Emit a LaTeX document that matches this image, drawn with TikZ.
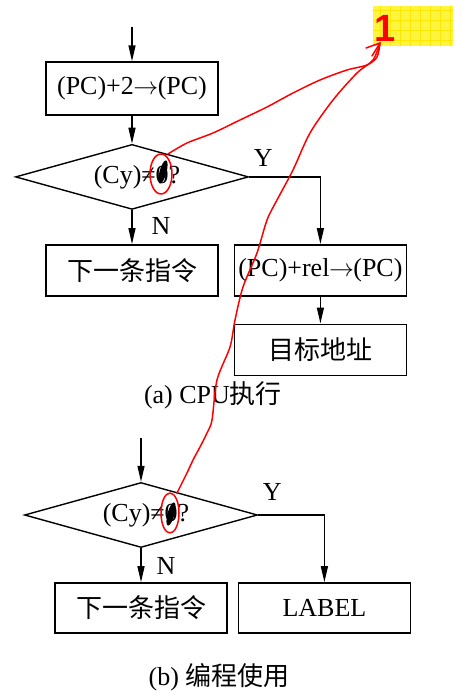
\documentclass[tikz,border=0pt]{standalone}
\usepackage{fontspec}
\setmainfont{Liberation Serif}
\newfontfamily\cjk{Noto Sans CJK SC}
\newfontfamily\notefont{Liberation Sans}
\usetikzlibrary{arrows.meta,positioning,shapes.geometric}

\tikzset{
  box/.style={draw, line width=1.4pt, minimum width=172pt, minimum height=51pt, inner sep=0pt},
  decide/.style={draw, diamond, line width=1.4pt, minimum width=233pt, minimum height=65pt, inner sep=0pt, aspect=3.6},
  flow/.style={-{Triangle[length=16pt,width=7pt]}, line width=1.4pt},
  pen/.style={red, line width=1.5pt, line cap=round, line join=round},
}
\newcommand{\toarr}{\kern-0.5pt$\rightarrow$\kern-0.5pt}

\begin{document}
\begin{tikzpicture}[x=1pt, y=1pt, font=\fontsize{26}{31}\selectfont]
  \useasboundingbox (0,0) rectangle (462,-691);

  % (a) CPU side
  \coordinate (ina) at (132,-27);
  \node[box, minimum height=53pt] (inc) at (132,-88.5) {(PC)+2\toarr(PC)};
  \node[decide, below=28pt of inc] (testa) {\hspace*{10pt}(Cy)≠0?};
  \node[box, below=34pt of testa] (nexta) {\cjk 下一条指令};
  \node[box, right=15pt of nexta] (rel) {(PC)+rel\toarr(PC)};
  \node[box, below=27pt of rel] (dest) {\cjk 目标地址};
  \node (capa) at (213,-395) {(a) CPU{\cjk 执行}};
  \node (ya) at ([xshift=14pt,yshift=19pt]testa.east) {Y};
  \node (na) at ([xshift=29pt,yshift=-16pt]testa.south) {N};
  \draw[flow] (ina) -- (inc);
  \draw[flow] (inc) -- (testa);
  \draw[flow] (testa) -- (nexta);
  \draw[flow] (testa.east) -| (rel);
  \draw[flow] (rel) -- (dest);

  % (b) in a program
  \coordinate (inb) at (141,-438);
  \node[decide] (testb) at (141,-515) {\hspace*{10pt}(Cy)≠0?};
  \node[box, below=34pt of testb, minimum height=50pt] (nextb) {\cjk 下一条指令};
  \node[box, right=10pt of nextb, minimum height=50pt] (target) {LABEL};
  \node (capb) at (219,-677) {(b) {\cjk 编程使用}};
  \node (yb) at ([xshift=14pt,yshift=23pt]testb.east) {Y};
  \node (nb) at ([xshift=25pt,yshift=-18pt]testb.south) {N};
  \draw[flow] (inb) -- (testb);
  \draw[flow] (testb) -- (nextb);
  \draw[flow] (testb.east) -| (target);

  % handwritten marks
  \node[fill=yellow!75, minimum width=80pt, minimum height=40pt, inner sep=0pt] (note) at (413,-26) {};
  \draw[yellow!90!orange, line width=0.2pt] (373,-46) grid[step=10pt] (453,-6);
  \node[red, font=\notefont\bfseries\fontsize{38}{40}\selectfont] (one) at (385,-28) {1};
  \fill[rotate around={-15:(163,-172)}] (163,-172) ellipse [x radius=3.5pt, y radius=12pt];
  \fill[rotate around={-15:(171,-514)}] (171,-514) ellipse [x radius=3.5pt, y radius=12pt];
  \draw[pen] (161,-174) ellipse [x radius=11pt, y radius=20pt];
  \draw[pen] (170,-513) ellipse [x radius=9pt, y radius=20pt];
  \draw[pen] plot[smooth] coordinates {(168,-154) (187,-143) (213,-133) (240,-120) (267,-107) (293,-93) (320,-80) (347,-70) (367,-65) (377,-57) (380,-43)};
  \draw[pen] plot[smooth] coordinates {(177,-493) (187,-473) (193,-460) (200,-447) (207,-433) (212,-420) (217,-380) (230,-347) (235,-320) (243,-287) (257,-253) (267,-220) (277,-200) (293,-170) (310,-133) (333,-100) (357,-73) (373,-60) (380,-43)};
  \draw[pen] (366,-48) -- (380,-43) -- (372,-56);
\end{tikzpicture}
\end{document}
